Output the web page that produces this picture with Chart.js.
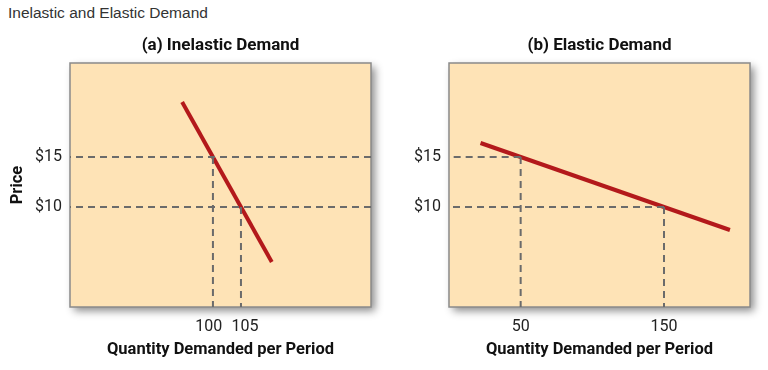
<!DOCTYPE html>
<html>
<head>
<meta charset="utf-8">
<script src="https://cdn.jsdelivr.net/npm/chart.js@4.4.1/dist/chart.umd.min.js"></script>
<style>
  body { margin: 0; background: #fff; width: 768px; height: 370px; position: relative; overflow: hidden; }
  #header { position: absolute; left: 8px; top: 4px; font: 15.5px "Liberation Sans", Arial, sans-serif; color: #333; }
  .wrap { position: absolute; top: 0; height: 370px; }
  #wrapA { left: 0; width: 384px; }
  #wrapB { left: 384px; width: 384px; }
</style>
</head>
<body>
<div id="header">Inelastic and Elastic Demand</div>
<div class="wrap" id="wrapA"><canvas id="chartA"></canvas></div>
<div class="wrap" id="wrapB"><canvas id="chartB"></canvas></div>
<script>
// panel (a) inelastic
const inelasticQty = [94.5, 110.5];
const inelasticPrice = [20.5, 4.5];
const inelasticMarkQty = [100, 105];
const inelasticMarkPrice = [15, 10];
const inelasticRange = [74.5, 128.2];

// panel (b) elastic
const elasticQty = [22, 196];
const elasticPrice = [16.4, 7.7];
const elasticMarkQty = [50, 150];
const elasticMarkPrice = [15, 10];
const elasticRange = [0, 210];

const priceRange = [0, 24.4];

const fontFam = 'Roboto, "Liberation Sans", sans-serif';
const boxBg = '#fee3b6';
const dashColor = '#6b6b6b';
const redLine = '#b3191b';

// peach box with a soft shadow + panel title centred over the plot area
const boxPlugin = {
    id: 'box',
    beforeDatasetsDraw(chart, args, opts) {
        const { ctx, chartArea: a } = chart;
        ctx.save();
        ctx.shadowColor = 'rgba(0,0,0,0.45)';
        ctx.shadowBlur = 8;
        ctx.shadowOffsetX = 4;
        ctx.shadowOffsetY = 4;
        ctx.fillStyle = boxBg;
        ctx.fillRect(a.left, a.top, a.width, a.height);
        ctx.restore();
        ctx.save();
        ctx.strokeStyle = '#8a8a8a';
        ctx.lineWidth = 1.5;
        ctx.strokeRect(a.left, a.top, a.width, a.height);
        ctx.fillStyle = '#111';
        ctx.font = 'bold 17px ' + fontFam;
        ctx.textAlign = 'center';
        ctx.textBaseline = 'middle';
        ctx.fillText(opts.text, (a.left + a.right) / 2, 46);
        ctx.restore();
    }
};

function dashed(points) {
    return {
        data: points,
        borderColor: dashColor,
        borderWidth: 2,
        borderDash: [7, 5],
        pointRadius: 0,
        showLine: true,
        fill: false
    };
}

function makeChart(id, opts) {
    const [xmin, xmax] = opts.range;
    const ymin = priceRange[0];
    const datasets = [];
    opts.markQty.forEach((q, i) => {
        const p = opts.markPrice[i];
        datasets.push(dashed([{ x: opts.fullH ? xmax : q, y: p }, { x: xmin, y: p }]));
        datasets.push(dashed([{ x: q, y: p }, { x: q, y: ymin }]));
    });
    datasets.push({
        data: opts.qty.map((q, i) => ({ x: q, y: opts.price[i] })),
        borderColor: redLine,
        borderWidth: 4,
        pointRadius: 0,
        showLine: true,
        fill: false
    });

    return new Chart(document.getElementById(id), {
        type: 'scatter',
        data: { datasets },
        plugins: [boxPlugin],
        options: {
            responsive: true,
            maintainAspectRatio: false,
            animation: false,
            layout: { padding: { left: 0, right: opts.padRight, top: 63, bottom: 0 } },
            plugins: {
                legend: { display: false },
                tooltip: { enabled: false },
                title: { display: false },
                box: { text: opts.title }
            },
            scales: {
                x: {
                    type: 'linear',
                    min: xmin,
                    max: xmax,
                    grid: { display: false, drawTicks: false },
                    border: { display: false },
                    afterBuildTicks: s => { s.ticks = opts.markQty.map(v => ({ value: v })); },
                    afterFit: s => { s.height = 63; },
                    ticks: {
                        autoSkip: false,
                        maxRotation: 0,
                        padding: 10,
                        color: '#222',
                        font: { family: fontFam, size: 16 },
                        callback: opts.xLabel
                    },
                    title: {
                        display: true,
                        text: 'Quantity Demanded per Period',
                        color: '#111',
                        font: { family: fontFam, size: 16.5, weight: 'bold' },
                        padding: { top: 4, bottom: 10 }
                    }
                },
                y: {
                    type: 'linear',
                    min: priceRange[0],
                    max: priceRange[1],
                    grid: { display: false, drawTicks: false },
                    border: { display: false },
                    afterBuildTicks: s => { s.ticks = opts.markPrice.map(v => ({ value: v })); },
                    afterFit: s => { s.width = opts.yWidth; },
                    ticks: {
                        autoSkip: false,
                        padding: 8,
                        color: '#222',
                        font: { family: fontFam, size: 16 },
                        callback: v => '$' + v
                    },
                    title: {
                        display: opts.showYTitle,
                        text: 'Price',
                        color: '#111',
                        font: { family: fontFam, size: 16.5, weight: 'bold' },
                        padding: { top: 8, bottom: 0 }
                    }
                }
            }
        }
    });
}

makeChart('chartA', {
    title: '(a) Inelastic Demand',
    qty: inelasticQty,
    price: inelasticPrice,
    markQty: inelasticMarkQty,
    markPrice: inelasticMarkPrice,
    range: inelasticRange,
    fullH: true,
    showYTitle: true,
    yWidth: 70,
    padRight: 13,
    // the two labels sit close together, nudge them apart a little
    xLabel: (v, i) => i === 0 ? v + '\u2002' : '\u2002' + v
});

makeChart('chartB', {
    title: '(b) Elastic Demand',
    qty: elasticQty,
    price: elasticPrice,
    markQty: elasticMarkQty,
    markPrice: elasticMarkPrice,
    range: elasticRange,
    fullH: false,
    showYTitle: false,
    yWidth: 65,
    padRight: 18,
    xLabel: v => String(v)
});
</script>
</body>
</html>
